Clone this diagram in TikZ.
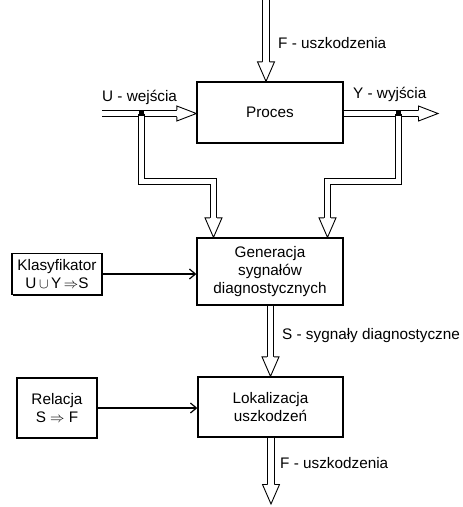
\documentclass[tikz,border=0pt]{standalone}
\usepackage{fontspec}
\setmainfont{Liberation Sans}
\usetikzlibrary{arrows.meta,calc,shadows}

\begin{document}
\begin{tikzpicture}[x=1pt,y=-1pt,
  every node/.style={font=\fontsize{15.3}{18}\selectfont},
  box/.style={draw,line width=1.3pt,fill=white,align=center,inner sep=2pt,
    drop shadow={shadow xshift=0.9pt,shadow yshift=-1.3pt,fill=black,opacity=1}},
  dbl/.style={draw,line width=0.9pt,double=white,double distance=5.4pt},
  thin/.style={draw,line width=1.2pt,-{Straight Barb[length=6pt,width=10pt,line width=1.2pt]}},
  lbl/.style={anchor=west,inner sep=0pt},
  headD/.pic={\filldraw[line width=0.9pt,fill=white,line join=miter]
      (-3.6,-19.5) -- (-8.5,-19.5) -- (0,0) -- (8.5,-19.5) -- (3.6,-19.5);},
  headR/.pic={\filldraw[line width=0.9pt,fill=white,line join=miter]
      (-19.5,-3.6) -- (-19.5,-7.5) -- (0,0) -- (-19.5,7.5) -- (-19.5,3.6);},
  jdot/.style={fill=black,minimum size=5.5pt,inner sep=0pt}
]
\useasboundingbox (0,0) rectangle (463,507);

% blocks
\node[box,minimum width=146pt,minimum height=61pt] (proc) at (270,112.5) {Proces};
\node[box,minimum width=146pt,minimum height=67pt] (gen) at (270,271.5)
  {Generacja\\sygnałów\\diagnostycznych};
\node[box,minimum width=90pt,minimum height=41pt] (klas) at (57,274)
  {Klasyfikator\\U\,$\cup$\,Y\,$\Rightarrow$S};
\node[box,minimum width=145pt,minimum height=60pt] (lok) at (270.5,407)
  {Lokalizacja\\uszkodzeń};
\node[box,minimum width=80pt,minimum height=60pt] (rel) at (57,408)
  {Relacja\\S $\Rightarrow$ F};

% free ends and branch points
\coordinate (ftop) at (266,0);
\coordinate (uin) at (102,113.5);
\coordinate (yout) at (438,113.5);
\coordinate (ju) at (141.5,113.5);
\coordinate (jy) at (398.5,113.5);
\coordinate (fbot) at (271,504);

% faults into the process
\draw[dbl] (ftop) -- ([yshift=19.5pt]proc.north -| ftop);
\pic at (proc.north -| ftop) {headD};

% inputs U
\draw[dbl] (uin) -- ([xshift=-19.5pt]proc.west |- uin);
\pic at (proc.west |- uin) {headR};

% outputs Y
\draw[dbl] (proc.east |- yout) -- ([xshift=-19.5pt]yout);
\pic at (yout) {headR};

% U and Y branches into the residual generator
\draw[dbl] (ju) -- (141.5,181.5) -- (213.5,181.5) -- ([yshift=19.5pt]gen.north -| 213.5,0);
\pic at (gen.north -| 213.5,0) {headD};
\draw[dbl] (jy) -- (398.5,181.5) -- (327.5,181.5) -- ([yshift=19.5pt]gen.north -| 327.5,0);
\pic at (gen.north -| 327.5,0) {headD};
\node[jdot] (jdu) at (ju) {};
\node[jdot] (jdy) at (jy) {};

% diagnostic signals S
\draw[dbl] (gen.south -| lok.north) -- ([yshift=19.5pt]lok.north);
\pic at (lok.north) {headD};

% located faults F
\draw[dbl] (lok.south -| fbot) -- ([yshift=19.5pt]fbot);
\pic at (fbot) {headD};

% knowledge blocks
\draw[thin] (klas.east) -- (klas.east -| gen.west);
\draw[thin] (rel.east) -- (rel.east -| lok.west);

% labels
\node[lbl] (lf1) at (278,43) {F - uszkodzenia};
\node[lbl] (lu) at (102,97) {U - wejścia};
\node[lbl] (ly) at (353,94) {Y - wyjścia};
\node[lbl] (ls) at (282,336) {S - sygnały diagnostyczne};
\node[lbl] (lf2) at (280,463) {F - uszkodzenia};
\end{tikzpicture}
\end{document}
